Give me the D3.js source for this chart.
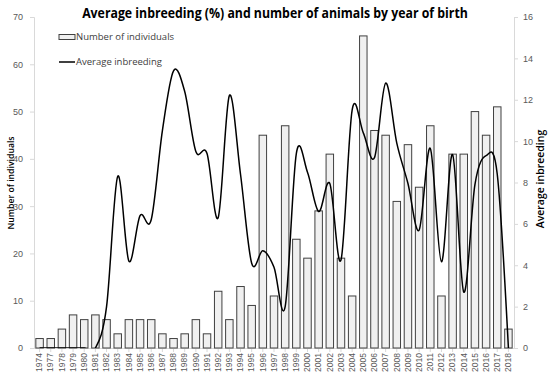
<!DOCTYPE html>
<html>
<head>
<meta charset="utf-8">
<script src="https://cdn.jsdelivr.net/npm/d3@7"></script>
<style>
  body { margin: 0; background: #fff; }
  svg { display: block; font-family: "Open Sans", "Liberation Sans", sans-serif; }
</style>
</head>
<body>
<div id="chart"></div>
<script>
const years = ['1974', '1977', '1978', '1979', '1980', '1981', '1982', '1983', '1984', '1985',
  '1986', '1987', '1988', '1989', '1990', '1991', '1992', '1993', '1994', '1995', '1996',
  '1997', '1998', '1999', '2000', '2001', '2002', '2003', '2004', '2005', '2006', '2007',
  '2008', '2009', '2010', '2011', '2012', '2013', '2014', '2015', '2016', '2017', '2018'];

const individuos = [2, 2, 4, 7, 6, 7, 6, 3, 6, 6,
  6, 3, 2, 3, 6, 3, 12, 6, 13, 9, 45,
  11, 47, 23, 19, 29, 41, 19, 11, 66, 46, 45,
  31, 43, 34, 47, 11, 41, 41, 50, 45, 51, 4];

const consanguinidad = [0, 0, 0, 0, 0, 0, 2.0, 8.3, 4.2, 6.4,
  6.2, 10.5, 13.4, 12.4, 9.5, 9.4, 6.3, 12.2, 8.4, 4.1, 4.7,
  3.9, 2.0, 9.4, 8.5, 6.6, 7.95, 4.25, 11.5, 10.4, 9.2, 12.8,
  9.9, 7.95, 5.7, 9.65, 4.17, 9.35, 2.7, 7.9, 9.3, 8.4, 0];

const ticksIzq = [0, 10, 20, 30, 40, 50, 60, 70];
const ticksDer = [0, 2, 4, 6, 8, 10, 12, 14, 16];

const width = 550, height = 375;
const margin = { top: 17, right: 36, bottom: 27, left: 34 };
const w = width - margin.left - margin.right;
const h = height - margin.top - margin.bottom;

const svg = d3.select('#chart').append('svg')
  .attr('width', width)
  .attr('height', height);

const g = svg.append('g').attr('transform', `translate(${margin.left},${margin.top})`);

const x = d3.scaleBand().domain(years).range([0, w]).paddingInner(0.33).paddingOuter(0.165);
const yIzq = d3.scaleLinear().domain([0, 70]).range([h, 0]);
const yDer = d3.scaleLinear().domain([0, 16]).range([h, 0]);

// clip para la linea suavizada (se sale por debajo de 0)
svg.append('defs').append('clipPath').attr('id', 'area')
  .append('rect').attr('x', 0).attr('y', 0).attr('width', w).attr('height', h);

// Ejes
const ejeIzq = g.append('g')
  .call(d3.axisLeft(yIzq).tickValues(ticksIzq).tickSize(4).tickPadding(7));
const ejeDer = g.append('g')
  .attr('transform', `translate(${w},0)`)
  .call(d3.axisRight(yDer).tickValues(ticksDer).tickSize(4).tickPadding(5));
const ejeX = g.append('g')
  .attr('transform', `translate(0,${h})`)
  .call(d3.axisBottom(x).tickSize(4).tickSizeOuter(0));

[ejeIzq, ejeDer, ejeX].forEach(e => {
  e.selectAll('path, line').attr('stroke', '#d9d9d9');
  e.selectAll('text').attr('fill', '#595959').style('font-size', '9px');
});

ejeX.selectAll('text')
  .attr('transform', 'rotate(-90)')
  .attr('text-anchor', 'end')
  .attr('x', -5)
  .attr('y', 0)
  .attr('dy', '0.32em')
  .style('font-size', '8.5px');

// Barras
g.selectAll('.bar')
  .data(individuos)
  .enter()
  .append('rect')
  .attr('class', 'bar')
  .attr('x', (d, i) => x(years[i]))
  .attr('y', d => yIzq(d))
  .attr('width', x.bandwidth())
  .attr('height', d => h - yIzq(d))
  .attr('fill', '#f0f0f0')
  .attr('stroke', '#404040')
  .attr('stroke-width', 1);

// Linea de consanguinidad promedio
const linea = d3.line()
  .x((d, i) => x(years[i]) + x.bandwidth() / 2)
  .y(d => yDer(d))
  .curve(d3.curveCardinal.tension(0));

g.append('path')
  .datum(consanguinidad)
  .attr('clip-path', 'url(#area)')
  .attr('d', linea)
  .attr('fill', 'none')
  .attr('stroke', '#000')
  .attr('stroke-width', 1.5);

// Titulo (estrechado para parecerse a Calibri)
const titulo = svg.append('text')
  .attr('text-anchor', 'middle')
  .style('font-size', '14.5px')
  .style('font-weight', 'bold')
  .text('Average inbreeding (%) and number of animals by year of birth');
const escala = 386 / titulo.node().getComputedTextLength();
titulo.attr('transform', `translate(275,18) scale(${escala},1)`);

// Titulos de ejes
svg.append('text')
  .attr('transform', `translate(14,183) rotate(-90)`)
  .attr('text-anchor', 'middle')
  .style('font-size', '8.7px')
  .style('font-weight', '600')
  .text('Number of individuals');

svg.append('text')
  .attr('transform', `translate(544,179) rotate(-90)`)
  .attr('text-anchor', 'middle')
  .style('font-size', '10.5px')
  .style('font-weight', '600')
  .text('Average inbreeding');

// Leyenda
const leyenda = svg.append('g').attr('transform', 'translate(59,37)');
leyenda.append('rect')
  .attr('x', 0).attr('y', -2.5)
  .attr('width', 16).attr('height', 5)
  .attr('fill', '#f0f0f0').attr('stroke', '#404040');
leyenda.append('text')
  .attr('x', 17).attr('y', 0).attr('dy', '0.35em')
  .style('font-size', '9.5px').attr('fill', '#404040')
  .text('Number of individuals');
leyenda.append('line')
  .attr('x1', 0).attr('x2', 16).attr('y1', 25).attr('y2', 25)
  .attr('stroke', '#000').attr('stroke-width', 1.5);
leyenda.append('text')
  .attr('x', 17).attr('y', 25).attr('dy', '0.35em')
  .style('font-size', '9.5px').attr('fill', '#404040')
  .text('Average inbreeding');
</script>
</body>
</html>
